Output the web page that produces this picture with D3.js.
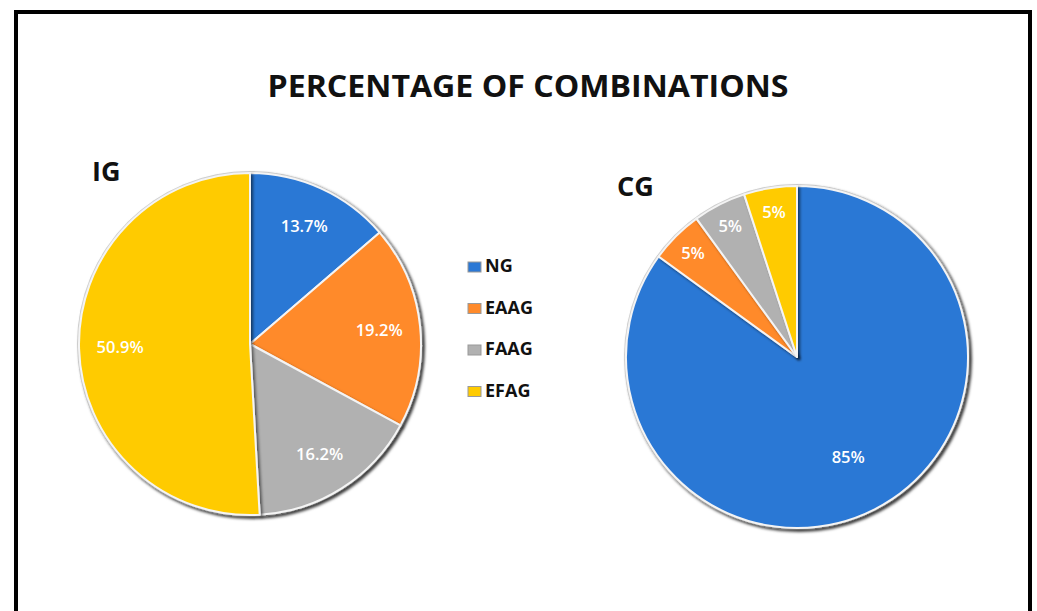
<!DOCTYPE html>
<html>
<head>
<meta charset="utf-8">
<script src="https://cdn.jsdelivr.net/npm/d3@7"></script>
<style>
  body { margin: 0; background: #fff; }
  svg { display: block; }
</style>
</head>
<body>
<div id="chart"></div>
<script>
// data
const categories = ["NG", "EAAG", "FAAG", "EFAG"];
const igValues = [13.7, 19.2, 16.2, 50.9];
const cgValues = [85, 5, 5, 5];
const igLabels = ["13.7%", "19.2%", "16.2%", "50.9%"];
const cgLabels = ["85%", "5%", "5%", "5%"];
const sliceColors = ["#2b78d5", "#ff8a2b", "#b1b1b1", "#ffcb00"];

const W = 1037, H = 611;

let svg = d3.select("#chart")
    .append("svg")
    .attr("width", W)
    .attr("height", H);

let defs = svg.append("defs");
let sh = defs.append("filter")
    .attr("id", "shadow")
    .attr("x", "-10%").attr("y", "-10%")
    .attr("width", "130%").attr("height", "130%");
sh.append("feDropShadow")
    .attr("dx", 2).attr("dy", 2)
    .attr("stdDeviation", 1.5)
    .attr("flood-color", "#000")
    .attr("flood-opacity", 0.55);

let color = d3.scaleOrdinal()
    .domain(categories)
    .range(sliceColors);

// frame
svg.append("rect")
    .attr("x", 16).attr("y", 12)
    .attr("width", 1014).attr("height", 640)
    .attr("fill", "none")
    .attr("stroke", "#000")
    .attr("stroke-width", 4);

// title
svg.append("text")
    .attr("x", 528).attr("y", 97)
    .attr("text-anchor", "middle")
    .attr("font-family", "Open Sans, sans-serif")
    .attr("font-weight", 700)
    .attr("font-size", 31)
    .attr("textLength", 521)
    .attr("lengthAdjust", "spacingAndGlyphs")
    .attr("fill", "#111")
    .text("PERCENTAGE OF COMBINATIONS");

function drawPie(cx, cy, r, values, labels, name, nameX, nameY, labelK) {
    let g = svg.append("g")
        .attr("transform", "translate(" + cx + "," + cy + ")");

    let pie = d3.pie().sort(null).value(function(d) { return d; });
    let arcs = pie(values);
    let arc = d3.arc().innerRadius(0).outerRadius(r);

    // light rim behind the pie
    g.append("circle")
        .attr("r", r + 2)
        .attr("fill", "#d0d0d0")
        .attr("filter", "url(#shadow)");

    g.selectAll("path.slice")
        .data(arcs)
        .enter()
        .append("path")
        .attr("class", "slice")
        .attr("d", arc)
        .attr("fill", function(d, i) { return color(categories[i]); })
        .attr("stroke", "#f4f4f4")
        .attr("stroke-width", 2)
        .attr("stroke-linejoin", "round")
        .attr("filter", "url(#shadow)");

    g.selectAll("text.lbl")
        .data(arcs)
        .enter()
        .append("text")
        .attr("class", "lbl")
        .attr("transform", function(d) {
            let k = labelK(d);
            let a = (d.startAngle + d.endAngle) / 2;
            return "translate(" + (Math.sin(a) * r * k) + "," + (-Math.cos(a) * r * k) + ")";
        })
        .attr("text-anchor", "middle")
        .attr("dy", "0.35em")
        .attr("font-family", "Open Sans, sans-serif")
        .attr("font-weight", 600)
        .attr("font-size", 16.5)
        .attr("fill", "#fff")
        .text(function(d, i) { return labels[i]; });

    svg.append("text")
        .attr("x", nameX).attr("y", nameY)
        .attr("font-family", "Open Sans, sans-serif")
        .attr("font-weight", 700)
        .attr("font-size", 27)
        .attr("fill", "#111")
        .text(name);
}

drawPie(250, 344, 171, igValues, igLabels, "IG", 92, 181,
    function(d) { return 0.76; });
drawPie(797, 357, 171, cgValues, cgLabels, "CG", 617, 196,
    function(d) { return (d.endAngle - d.startAngle) > Math.PI ? 0.66 : 0.86; });

// legend
let legend = svg.append("g")
    .attr("transform", "translate(468,272)");
let rows = legend.selectAll("g")
    .data(categories)
    .enter()
    .append("g")
    .attr("transform", function(d, i) { return "translate(0," + (i * 41.5) + ")"; });
rows.append("rect")
    .attr("x", 0).attr("y", -10)
    .attr("width", 13).attr("height", 10)
    .attr("fill", function(d) { return color(d); })
    .attr("stroke", "#999")
    .attr("stroke-width", 1);
rows.append("text")
    .attr("x", 17).attr("y", 0)
    .attr("font-family", "Open Sans, sans-serif")
    .attr("font-weight", 700)
    .attr("font-size", 18)
    .attr("fill", "#111")
    .text(function(d) { return d; });
</script>
</body>
</html>
